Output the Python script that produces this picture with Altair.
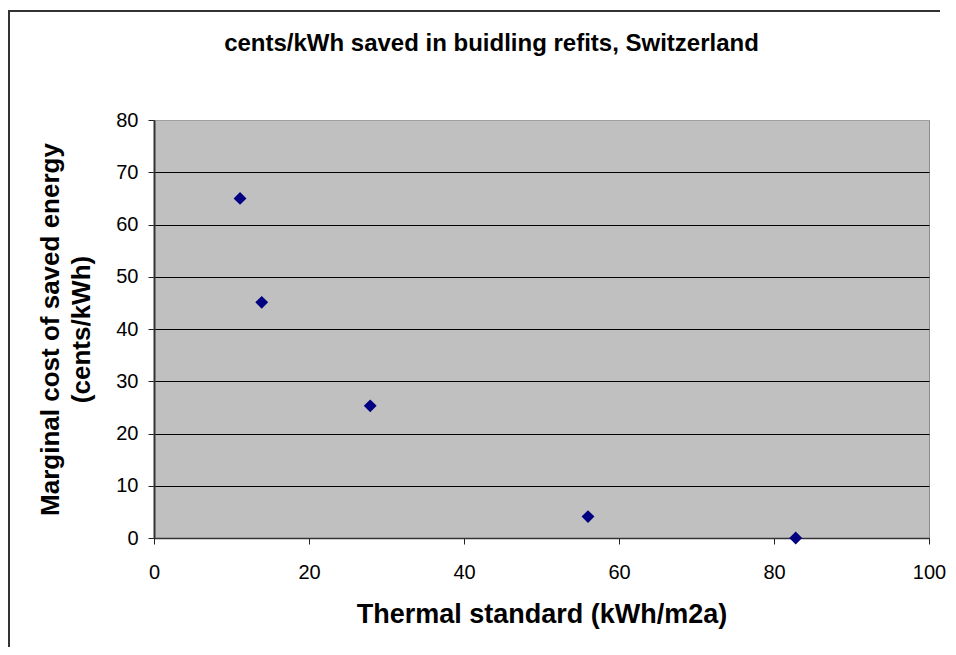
import altair as alt
import pandas as pd

# Data
thermal_standard = [11.1, 13.9, 27.9, 56.0, 82.8]      # kWh/m2a
marginal_cost = [65.0, 45.1, 25.3, 4.1, 0.0]           # cents/kWh

x_ticks = [0, 20, 40, 60, 80, 100]
y_ticks = [0, 10, 20, 30, 40, 50, 60, 70, 80]

title_text = "cents/kWh saved in buidling refits, Switzerland"
x_title = "Thermal standard (kWh/m2a)"
y_title = ["Marginal cost of saved energy", "(cents/kWh)"]

df = pd.DataFrame({"x": thermal_standard, "y": marginal_cost})

FONT = "Liberation Sans"
W, H = 775, 418

points = alt.Chart(df).mark_point(
    shape="diamond", filled=True, color="#000080", size=165, opacity=1
).encode(
    x=alt.X("x:Q",
            scale=alt.Scale(domain=[0, 100], nice=False, zero=True),
            axis=alt.Axis(
                values=x_ticks, title=x_title, grid=False,
                labelFont=FONT, labelFontSize=20, labelColor="black",
                labelPadding=18, labelFlush=False,
                tickSize=6, tickColor="#222", tickWidth=1,
                domainColor="#333", domainWidth=1.5,
                titleFont=FONT, titleFontSize=27, titleFontWeight="bold",
                titleColor="black", titleBaseline="middle",
                titleX=W / 2, titleY=76,
            )),
    y=alt.Y("y:Q",
            scale=alt.Scale(domain=[0, 80], nice=False),
            axis=alt.Axis(
                values=y_ticks, title=y_title, grid=True,
                gridColor={"condition": {"test": "datum.value >= 80", "value": "#a0a0a0"},
                           "value": "black"},
                gridWidth=1.2,
                labelFont=FONT, labelFontSize=20, labelColor="black",
                labelPadding=10, labelFlush=False,
                tickSize=6, tickColor="#222", tickWidth=1,
                domainColor="#333", domainWidth=2,
                titleFont=FONT, titleFontSize=26, titleFontWeight="bold",
                titleColor="black", titleAngle=270, titleBaseline="middle",
                titleAlign="center", titleLineHeight=31,
                titleX=-104, titleY=H / 2,
            )),
)

# outer frame of the chart picture (left and top edges visible)
frame_left = alt.Chart(df).mark_rule(color="#333", strokeWidth=2).encode(
    x=alt.value(-145), y=alt.value(-109), y2=alt.value(530)
)
frame_top = alt.Chart(df).mark_rule(color="#333", strokeWidth=2).encode(
    x=alt.value(-146), x2=alt.value(786), y=alt.value(-109)
)

chart = alt.layer(frame_left, frame_top, points).properties(
    width=W, height=H,
    title=alt.TitleParams(
        title_text, font=FONT, fontSize=24, fontWeight="bold", color="black",
        anchor="middle", frame="group", dx=-50, offset=0, dy=46,
    ),
    autosize=alt.AutoSizeParams(type="none"),
    padding={"left": 146, "top": 112, "right": 19, "bottom": 109},
    background="white",
).configure_view(
    fill="#C0C0C0", stroke="#8c8c8c", strokeWidth=1
)

chart.save("out.html", embed_options={"renderer": "svg", "actions": False})
